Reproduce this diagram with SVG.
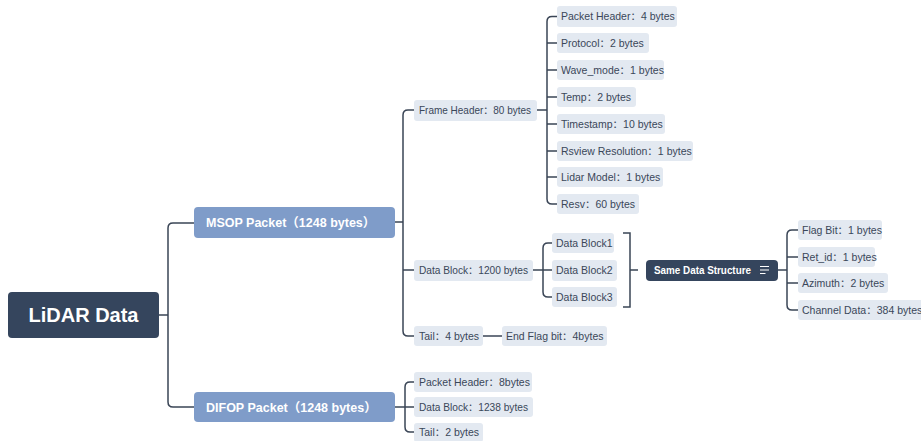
<svg xmlns="http://www.w3.org/2000/svg" width="921" height="441" viewBox="0 0 921 441">
<style>
.leaf rect{fill:#e3e9f1}
.leaf text{font-family:"Liberation Sans","Noto Sans CJK SC",sans-serif;font-size:10.5px;fill:#3a4759}
.mid rect{fill:#7f9cc9}
.mid text{font-family:"Liberation Sans","Noto Sans CJK SC",sans-serif;font-size:12.5px;font-weight:bold;fill:#ffffff}
.dark rect{fill:#35455d}
.dark text{font-family:"Liberation Sans","Noto Sans CJK SC",sans-serif;font-weight:bold;fill:#ffffff}
#connectors path{fill:none;stroke:#3a4556;stroke-width:1.5}
</style>
<rect width="921" height="441" fill="#ffffff"/>
<g id="connectors">
<path d="M159,315 H168 M194,223 H173 Q168,223 168,228 V402 Q168,407 173,407 H194"/>
<path d="M395,222 H403 M414,110 H408 Q403,110 403,115 V331 Q403,336 408,336 H414 M403,270 H414"/>
<path d="M537,110 H547 M557,16.5 H552 Q547,16.5 547,21.5 V199 Q547,204 552,204 H557 M547,43 H557 M547,70 H557 M547,97 H557 M547,124 H557 M547,151 H557 M547,177 H557"/>
<path d="M533,270 H543 M552,243 H548 Q543,243 543,248 V292 Q543,297 548,297 H552 M543,270 H552"/>
<path d="M623,233 H630 V307 H623 M630,270 H638"/>
<path d="M778,270 H787 M798,230 H792 Q787,230 787,235 V305 Q787,310 792,310 H798 M787,257 H798 M787,283 H798"/>
<path d="M483,336 H502"/>
<path d="M395,407 H405 M414,382 H410 Q405,382 405,387 V427 Q405,432 410,432 H414 M405,407 H414"/>
</g>
<g id="root" class="dark"><rect x="8" y="292" width="151" height="46" rx="4"/><text x="83.5" y="322" text-anchor="middle" font-size="20">LiDAR Data</text></g>
<g id="msop" class="mid"><rect x="194" y="207" width="201" height="31" rx="4"/><text x="206" y="227">MSOP Packet（1248 bytes）</text></g>
<g id="difop" class="mid"><rect x="194" y="392" width="201" height="30" rx="4"/><text x="206" y="412">DIFOP Packet（1248 bytes）</text></g>
<g id="frame-header" class="leaf"><rect x="414" y="100" width="123" height="21" rx="3"/><text x="419" y="114" textLength="112" lengthAdjust="spacingAndGlyphs">Frame Header：80 bytes</text></g>
<g id="fh-packet-header" class="leaf"><rect x="557" y="6" width="120" height="21" rx="3"/><text x="561" y="20">Packet Header：4 bytes</text></g>
<g id="fh-protocol" class="leaf"><rect x="557" y="33" width="92" height="20" rx="3"/><text x="561" y="47">Protocol：2 bytes</text></g>
<g id="fh-wave-mode" class="leaf"><rect x="557" y="60" width="107" height="20" rx="3"/><text x="561" y="74">Wave_mode：1 bytes</text></g>
<g id="fh-temp" class="leaf"><rect x="557" y="87" width="79" height="20" rx="3"/><text x="561" y="101">Temp：2 bytes</text></g>
<g id="fh-timestamp" class="leaf"><rect x="557" y="114" width="108" height="20" rx="3"/><text x="561" y="128">Timestamp：10 bytes</text></g>
<g id="fh-rsview" class="leaf"><rect x="557" y="141" width="136" height="20" rx="3"/><text x="561" y="155">Rsview Resolution：1 bytes</text></g>
<g id="fh-lidar-model" class="leaf"><rect x="557" y="167" width="106" height="20" rx="3"/><text x="561" y="181">Lidar Model：1 bytes</text></g>
<g id="fh-resv" class="leaf"><rect x="557" y="194" width="82" height="20" rx="3"/><text x="561" y="208">Resv：60 bytes</text></g>
<g id="data-block" class="leaf"><rect x="414" y="260" width="119" height="21" rx="3"/><text x="419" y="274" textLength="109" lengthAdjust="spacingAndGlyphs">Data Block：1200 bytes</text></g>
<g id="data-block1" class="leaf"><rect x="552" y="233" width="62" height="20" rx="3"/><text x="556" y="247">Data Block1</text></g>
<g id="data-block2" class="leaf"><rect x="552" y="260" width="65" height="21" rx="3"/><text x="556" y="274">Data Block2</text></g>
<g id="data-block3" class="leaf"><rect x="552" y="287" width="65" height="20" rx="3"/><text x="556" y="301">Data Block3</text></g>
<g id="same-structure" class="dark"><rect x="646" y="260" width="132" height="21" rx="4"/><text x="654" y="274" font-size="10.5" textLength="97" lengthAdjust="spacingAndGlyphs">Same Data Structure</text>
<path d="M760,266.5 H769 M760,270 H769 M760,273.5 H765.5" stroke="#ffffff" stroke-width="1.1" fill="none"/></g>
<g id="flag-bit" class="leaf"><rect x="798" y="220" width="84" height="20" rx="3"/><text x="802" y="234">Flag Bit：1 bytes</text></g>
<g id="ret-id" class="leaf"><rect x="798" y="247" width="77" height="20" rx="3"/><text x="802" y="261">Ret_id：1 bytes</text></g>
<g id="azimuth" class="leaf"><rect x="798" y="273" width="90" height="20" rx="3"/><text x="802" y="287">Azimuth：2 bytes</text></g>
<g id="channel-data" class="leaf"><rect x="798" y="300" width="128" height="20" rx="3"/><text x="802" y="314">Channel Data：384 bytes</text></g>
<g id="tail" class="leaf"><rect x="414" y="326" width="69" height="20" rx="3"/><text x="419" y="340">Tail：4 bytes</text></g>
<g id="end-flag" class="leaf"><rect x="502" y="326" width="105" height="20" rx="3"/><text x="506" y="340">End Flag bit：4bytes</text></g>
<g id="difop-packet-header" class="leaf"><rect x="414" y="372" width="118" height="20" rx="3"/><text x="419" y="386">Packet Header：8bytes</text></g>
<g id="difop-data-block" class="leaf"><rect x="414" y="397" width="119" height="20" rx="3"/><text x="419" y="411" textLength="109" lengthAdjust="spacingAndGlyphs">Data Block：1238 bytes</text></g>
<g id="difop-tail" class="leaf"><rect x="414" y="423" width="69" height="19" rx="3"/><text x="419" y="436">Tail：2 bytes</text></g>
</svg>
